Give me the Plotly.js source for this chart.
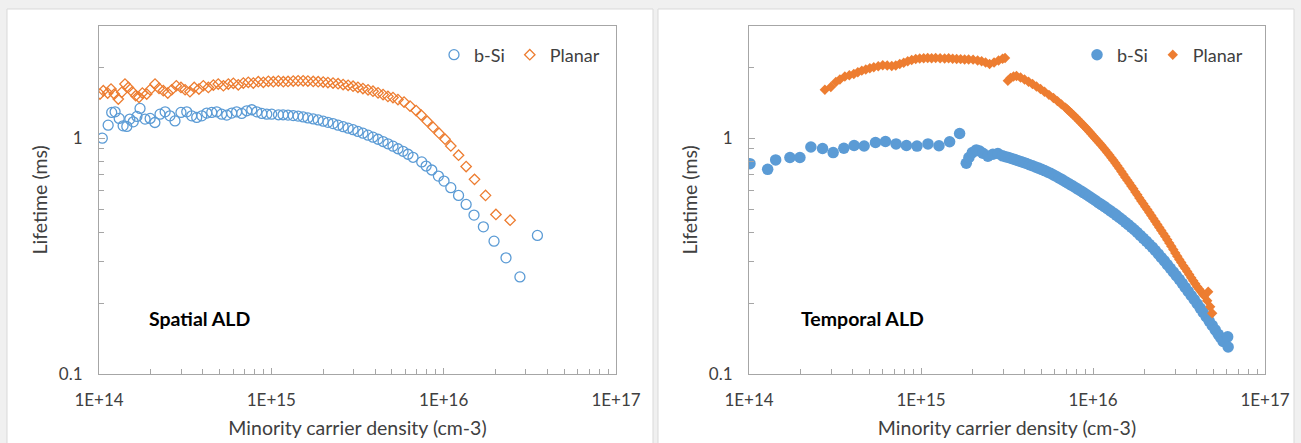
<!DOCTYPE html>
<html>
<head>
<meta charset="utf-8">
<script src="https://cdn.plot.ly/plotly-3.0.1.min.js"></script>
<style>html,body{margin:0;padding:0;background:#f0f0f0;}#chart{width:1301px;height:443px;}</style>
</head>
<body>
<div id="chart"></div>
<script>
// ---------- Spatial ALD (left panel) ----------
const spatialBSiX = [1.045e14,1.13e14,1.185e14,1.24e14,1.31e14,1.38e14,1.45e14,1.51e14,1.58e14,1.66e14,
  1.73e14,1.85e14,1.98e14,2.11e14,2.26e14,2.42e14,2.58e14,2.76e14,2.99e14,3.23e14,
  3.45e14,3.69e14,3.95e14,4.22e14,4.51e14,4.82e14,5.15e14,5.51e14,5.89e14,6.29e14,
  6.73e14,7.20e14,7.70e14,8.23e14,8.80e14,9.41e14,1.005e15,1.10e15,1.17e15,
  1.25e15,1.34e15,1.43e15,1.53e15,1.63e15,1.75e15,1.87e15,2.00e15,2.13e15,2.28e15,2.44e15,2.61e15,2.79e15,
  2.98e15,3.18e15,3.40e15,3.64e15,3.89e15,4.16e15,4.45e15,4.75e15,5.08e15,5.43e15,5.81e15,6.21e15,6.64e15,
  7.46e15,7.91e15,8.53e15,9.32e15,1.005e16,1.10e16,1.22e16,1.35e16,1.50e16,1.70e16,1.96e16,2.30e16,2.77e16,3.50e16];
const spatialBSiY = [1.00,1.136,1.286,1.294,1.213,1.128,1.122,1.205,1.173,1.237,
  1.338,1.205,1.213,1.166,1.265,1.294,1.244,1.184,1.286,1.294,
  1.244,1.225,1.244,1.278,1.286,1.294,1.265,1.253,1.278,1.294,
  1.274,1.307,1.320,1.294,1.274,1.265,1.265,1.257,1.257,
  1.253,1.247,1.241,1.231,1.219,1.207,1.195,1.181,1.168,1.153,1.136,1.119,1.103,
  1.087,1.068,1.050,1.030,1.010,0.990,0.968,0.947,0.925,0.902,0.880,0.855,0.830,
  0.793,0.762,0.733,0.691,0.658,0.617,0.572,0.524,0.472,0.421,0.366,0.311,0.258,0.387];

const spatialPlanarX = [1.013e14,1.059e14,1.123e14,1.174e14,1.227e14,1.294e14,1.354e14,1.415e14,1.479e14,1.560e14,
  1.633e14,1.707e14,1.785e14,1.892e14,1.977e14,2.114e14,2.230e14,2.362e14,2.506e14,2.643e14,
  2.81e14,2.99e14,3.16e14,3.37e14,3.57e14,3.80e14,4.03e14,4.31e14,4.61e14,4.92e14,
  5.27e14,5.63e14,6.02e14,6.43e14,6.88e14,7.35e14,7.86e14,8.40e14,8.99e14,9.61e14,
  1.027e15,1.098e15,1.174e15,
  1.25e15,1.34e15,1.43e15,1.53e15,1.63e15,1.75e15,1.87e15,2.00e15,2.13e15,2.28e15,2.44e15,2.61e15,
  2.79e15,2.98e15,3.18e15,3.40e15,3.64e15,3.89e15,4.16e15,4.45e15,4.75e15,5.08e15,5.43e15,
  5.89e15,6.38e15,6.92e15,7.40e15,8.02e15,8.68e15,9.40e15,1.019e16,1.10e16,1.22e16,1.35e16,1.51e16,1.75e16,2.01e16,2.43e16];
const spatialPlanarY = [1.539,1.590,1.554,1.616,1.539,1.466,1.565,1.697,1.642,1.574,
  1.514,1.490,1.554,1.539,1.605,1.697,1.627,1.590,1.554,1.605,
  1.669,1.642,1.605,1.574,1.642,1.616,1.669,1.642,1.681,1.697,
  1.669,1.697,1.709,1.685,1.714,1.726,1.714,1.736,1.726,1.743,
  1.736,1.748,1.736,
  1.741,1.748,1.751,1.751,1.748,1.741,1.736,1.731,1.722,1.714,1.702,1.689,
  1.676,1.661,1.644,1.624,1.604,1.582,1.557,1.531,1.504,1.487,1.458,
  1.423,1.368,1.310,1.253,1.181,1.114,1.050,0.990,0.927,0.847,0.758,0.669,0.572,0.475,0.449];

// ---------- Temporal ALD (right panel) ----------
const temporalBSiX = [1.013e14,1.284e14,1.429e14,1.730e14,1.977e14,2.290e14,2.677e14,3.085e14,3.560e14,4.084e14,
  4.669e14,5.437e14,6.215e14,7.160e14,8.229e14,9.48e14,1.098e15,1.272e15,1.467e15,1.677e15,
  1.834e15,1.899e15,1.988e15,2.097e15,2.191e15,2.290e15,2.448e15,2.617e15,2.798e15,
  2.98e15,3.10e15,3.228e15,3.361e15,3.499e15,3.642e15,3.791e15,3.946e15,4.107e15,4.275e15,
  4.449e15,4.631e15,4.821e15,5.018e15,5.224e15,5.437e15,5.658e15,5.890e15,6.132e15,6.382e15,
  6.643e15,6.915e15,7.198e15,7.492e15,7.798e15,8.119e15,8.454e15,8.798e15,9.157e15,9.531e15,
  9.92e15,1.033e16,1.075e16,1.119e16,1.165e16,1.212e16,1.262e16,1.313e16,1.367e16,1.423e16,
  1.481e16,1.542e16,1.605e16,1.671e16,1.739e16,1.810e16,1.884e16,1.961e16,2.041e16,2.125e16,
  2.212e16,2.303e16,2.397e16,2.495e16,2.597e16,2.703e16,2.813e16,2.928e16,3.048e16,3.173e16,
  3.303e16,3.438e16,3.578e16,3.725e16,3.877e16,4.035e16,4.200e16,4.372e16,4.551e16,4.738e16,
  4.932e16,5.133e16,5.343e16,5.524e16,5.712e16,6.066e16,6.107e16];
const temporalBSiY = [0.780,0.738,0.809,0.828,0.828,0.918,0.904,0.869,0.907,0.931,
  0.927,0.959,0.968,0.946,0.931,0.926,0.946,0.929,0.966,1.047,
  0.783,0.828,0.869,0.892,0.883,0.863,0.838,0.855,0.861,
  0.842,0.835,0.828,0.820,0.812,0.804,0.797,0.789,0.781,0.772,
  0.764,0.755,0.747,0.738,0.729,0.719,0.710,0.699,0.688,0.677,
  0.666,0.654,0.643,0.632,0.621,0.610,0.599,0.588,0.577,0.566,
  0.555,0.544,0.533,0.523,0.513,0.502,0.492,0.482,0.472,0.461,
  0.451,0.440,0.430,0.419,0.409,0.398,0.387,0.376,0.366,0.355,
  0.345,0.334,0.323,0.312,0.302,0.291,0.281,0.271,0.2615,0.252,
  0.2424,0.233,0.224,0.2153,0.207,0.1985,0.1904,0.1825,0.175,0.1677,
  0.1607,0.1539,0.1474,0.1424,0.1375,0.1437,0.1302];

const temporalPlanarX = [2.761e14,2.991e14,3.198e14,3.375e14,3.608e14,3.831e14,4.068e14,4.291e14,4.526e14,4.775e14,
  5.04e14,5.315e14,5.644e14,5.993e14,6.364e14,6.759e14,7.131e14,7.523e14,7.935e14,8.372e14,
  8.831e14,9.317e14,9.83e14,1.037e15,1.094e15,1.153e15,1.217e15,1.292e15,1.372e15,1.448e15,
  1.528e15,1.612e15,1.700e15,1.793e15,1.892e15,2.009e15,2.134e15,2.251e15,2.374e15,2.505e15,
  2.660e15,2.824e15,2.980e15,3.081e15,
  3.198e15,3.316e15,3.451e15,3.592e15,3.791e15,3.999e15,4.219e15,4.449e15,4.693e15,4.951e15,
  5.224e15,5.546e15,5.889e15,6.214e15,6.555e15,6.916e15,
  7.103e15,7.295e15,7.492e15,7.694e15,7.902e15,8.116e15,8.339e15,8.567e15,8.798e15,9.035e15,
  9.279e15,9.53e15,9.787e15,1.005e16,1.032e16,1.060e16,1.089e16,1.119e16,1.149e16,1.180e16,
  1.212e16,1.245e16,1.279e16,1.313e16,1.349e16,1.385e16,1.423e16,1.462e16,1.502e16,1.542e16,
  1.584e16,1.627e16,1.671e16,1.716e16,1.762e16,1.810e16,1.859e16,1.910e16,1.961e16,2.014e16,
  2.069e16,2.125e16,2.183e16,2.242e16,2.303e16,2.365e16,2.429e16,2.495e16,2.563e16,2.632e16,
  2.703e16,2.776e16,2.852e16,2.930e16,3.009e16,3.090e16,3.174e16,3.260e16,3.348e16,3.439e16,
  3.532e16,3.627e16,3.725e16,3.826e16,3.930e16,4.036e16,4.146e16,4.258e16,4.344e16,4.432e16,
  4.675e16,4.613e16,4.801e16,4.931e16];
const temporalPlanarY = [1.606,1.648,1.731,1.774,1.827,1.849,1.873,1.904,1.934,1.957,
  1.980,1.999,2.019,2.039,2.035,2.025,2.035,2.065,2.089,2.120,
  2.147,2.168,2.179,2.183,2.190,2.183,2.190,2.183,2.179,2.183,
  2.173,2.168,2.164,2.158,2.158,2.154,2.137,2.120,2.095,2.065,
  2.095,2.137,2.173,2.190,
  1.753,1.800,1.827,1.836,1.809,1.774,1.736,1.697,1.656,1.616,
  1.573,1.527,1.480,1.437,1.391,1.348,
  1.324,1.300,1.276,1.253,1.229,1.205,1.181,1.158,1.135,1.112,
  1.089,1.066,1.043,1.020,0.998,0.976,0.955,0.934,0.912,0.891,
  0.869,0.848,0.827,0.806,0.785,0.764,0.743,0.722,0.702,0.682,
  0.663,0.645,0.627,0.610,0.592,0.575,0.558,0.542,0.527,0.512,
  0.498,0.484,0.470,0.4566,0.4434,0.4305,0.418,0.406,0.394,0.383,
  0.371,0.359,0.348,0.337,0.326,0.316,0.306,0.297,0.288,0.280,
  0.272,0.264,0.2562,0.2487,0.2415,0.2345,0.2289,0.2234,0.2190,0.2148,
  0.2234,0.2045,0.1928,0.1809];

// ---------- labels ----------
const seriesNames = ['b-Si', 'Planar'];
const panelLabels = ['Spatial ALD', 'Temporal ALD'];
const xTickVals = [1e14, 1e15, 1e16, 1e17];
const xTickText = ['1E+14', '1E+15', '1E+16', '1E+17'];
const yTickVals = [0.1, 1];
const yTickText = ['0.1', '1'];
const xTitle = 'Minority carrier density (cm-3)';
const yTitle = 'Lifetime (ms)';

const BLUE = '#5B9BD5', ORANGE = '#ED7D31';
const FONT = 'Lato, "Open Sans", sans-serif';
const TXT = '#404040';
const AX = '#a6a6a6';

const xMinor = [];
[1e14, 1e15, 1e16].forEach(d => { for (let k = 2; k <= 9; k++) xMinor.push(k * d); });
const yMinor = [];
for (let k = 2; k <= 9; k++) yMinor.push(k * 0.1);
yMinor.push(2, 3);

const traces = [
  {x: spatialBSiX, y: spatialBSiY, name: seriesNames[0], type: 'scatter', mode: 'markers',
   xaxis: 'x', yaxis: 'y', legend: 'legend',
   marker: {symbol: 'circle-open', size: 10, color: BLUE, line: {width: 1.3, color: BLUE}}},
  {x: spatialPlanarX, y: spatialPlanarY, name: seriesNames[1], type: 'scatter', mode: 'markers',
   xaxis: 'x', yaxis: 'y', legend: 'legend',
   marker: {symbol: 'diamond-open', size: 8, color: ORANGE, line: {width: 1.3, color: ORANGE}}},
  {x: temporalBSiX, y: temporalBSiY, name: seriesNames[0], type: 'scatter', mode: 'markers',
   xaxis: 'x2', yaxis: 'y2', legend: 'legend2',
   marker: {symbol: 'circle', size: 11.5, color: BLUE}},
  {x: temporalPlanarX, y: temporalPlanarY, name: seriesNames[1], type: 'scatter', mode: 'markers',
   xaxis: 'x2', yaxis: 'y2', legend: 'legend2',
   marker: {symbol: 'diamond', size: 8, color: ORANGE}}
];

function xAxis(domain, anchor) {
  return {
    domain: domain, anchor: anchor, type: 'log', range: [14, 17],
    tickmode: 'array', tickvals: xTickVals, ticktext: xTickText,
    ticks: 'inside', ticklen: 6, tickwidth: 1, tickcolor: AX,
    minor: {tickmode: 'array', tickvals: xMinor, ticks: 'inside', ticklen: 5, tickwidth: 1, tickcolor: AX, showgrid: false},
    showline: true, mirror: true, linecolor: AX, linewidth: 1,
    showgrid: false, zeroline: false, ticklabelstandoff: 11,
    tickfont: {family: FONT, size: 17, color: TXT},
    title: {text: xTitle, font: {family: FONT, size: 19.5, color: TXT}, standoff: 11}
  };
}
function yAxis(domain, anchor) {
  return {
    domain: domain, anchor: anchor, type: 'log', range: [-1, Math.log10(3)],
    tickmode: 'array', tickvals: yTickVals, ticktext: yTickText,
    ticks: 'inside', ticklen: 6, tickwidth: 1, tickcolor: AX,
    minor: {tickmode: 'array', tickvals: yMinor, ticks: 'inside', ticklen: 5, tickwidth: 1, tickcolor: AX, showgrid: false},
    showline: true, mirror: true, linecolor: AX, linewidth: 1,
    showgrid: false, zeroline: false, ticklabelstandoff: 12,
    tickfont: {family: FONT, size: 17, color: TXT},
    title: {text: yTitle, font: {family: FONT, size: 19.5, color: TXT}, standoff: 6}
  };
}

const W = 1301, H = 443;
const yDom = [69 / H, 417.3 / H];
const layout = {
  width: W, height: H,
  margin: {l: 0, r: 0, t: 0, b: 0},
  paper_bgcolor: '#f0f0f0', plot_bgcolor: '#ffffff',
  font: {family: FONT, color: TXT},
  showlegend: true,
  xaxis: xAxis([99 / W, 616 / W], 'y'),
  yaxis: yAxis(yDom, 'x'),
  xaxis2: xAxis([749 / W, 1265 / W], 'y2'),
  yaxis2: yAxis(yDom, 'x2'),
  legend: {x: 434 / W, y: 1 - 55 / H, xanchor: 'left', yanchor: 'middle', orientation: 'h',
           bgcolor: 'rgba(0,0,0,0)', font: {family: FONT, size: 18, color: TXT}, itemwidth: 30},
  legend2: {x: 1077 / W, y: 1 - 55 / H, xanchor: 'left', yanchor: 'middle', orientation: 'h',
            bgcolor: 'rgba(0,0,0,0)', font: {family: FONT, size: 18, color: TXT}, itemwidth: 30},
  shapes: [
    {type: 'rect', xref: 'paper', yref: 'paper', x0: 7 / W, x1: 653 / W, y0: -0.05, y1: 1 - 9 / H,
     fillcolor: '#ffffff', line: {color: '#d9d9d9', width: 1}, layer: 'below'},
    {type: 'rect', xref: 'paper', yref: 'paper', x0: 658 / W, x1: 1294 / W, y0: -0.05, y1: 1 - 9 / H,
     fillcolor: '#ffffff', line: {color: '#d9d9d9', width: 1}, layer: 'below'}
  ],
  annotations: [
    {text: '<b>' + panelLabels[0] + '</b>', xref: 'paper', yref: 'paper', x: 147 / W, y: 1 - 318 / H,
     xanchor: 'left', yanchor: 'middle', showarrow: false, font: {family: FONT, size: 19.5, color: '#000000'}},
    {text: '<b>' + panelLabels[1] + '</b>', xref: 'paper', yref: 'paper', x: 799 / W, y: 1 - 318 / H,
     xanchor: 'left', yanchor: 'middle', showarrow: false, font: {family: FONT, size: 19.5, color: '#000000'}}
  ]
};

Plotly.newPlot('chart', traces, layout, {displayModeBar: false, staticPlot: true});
</script>
</body>
</html>
